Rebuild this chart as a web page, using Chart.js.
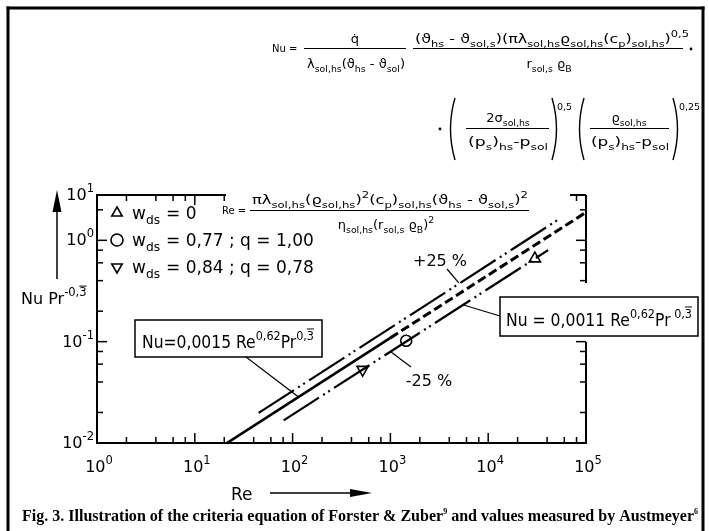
<!DOCTYPE html>
<html>
<head>
<meta charset="utf-8">
<script src="https://cdn.jsdelivr.net/npm/chart.js@4.4.0/dist/chart.umd.min.js"></script>
<style>
  html, body { margin: 0; padding: 0; background: #fff; }
</style>
</head>
<body>
<canvas id="nuChart" width="709" height="531"></canvas>
<script>
// values: x = Re, y = Nu Pr^-1/3 (log-log)
const lineSolid = [{ x: 20, y: 0.0096 }, { x: 1000, y: 0.109 }];
const lineDashed = [{ x: 1000, y: 0.109 }, { x: 100000, y: 1.89 }];
const linePlus25 = [{ x: 45, y: 0.0198 }, { x: 52000, y: 1.6 }];
const lineMinus25 = [{ x: 81, y: 0.0167 }, { x: 41000, y: 0.8 }];

const ptsWds0 = [{ x: 30000, y: 0.66 }];
const ptsWds077 = [{ x: 1450, y: 0.102 }];
const ptsWds084 = [{ x: 520, y: 0.053 }];

// axis range and ticks
const reMin = 1, reMax = 100000;
const nuMin = 0.01, nuMax = 2.8;
const reTicks = [1, 2, 4, 6, 8, 10, 20, 40, 60, 80, 100, 200, 400, 600, 800, 1000, 2000, 4000, 6000, 8000, 10000, 20000, 40000, 60000, 80000, 100000];
const nuTicks = [0.01, 0.02, 0.04, 0.06, 0.08, 0.1, 0.2, 0.4, 0.6, 0.8, 1, 2];
const reMajor = [1, 10, 100, 1000, 10000, 100000];
const reLabels = ["0", "1", "2", "3", "4", "5"];
const nuMajor = [0.01, 0.1, 1, nuMax];
const nuLabels = ["-2", "-1", "0", "1"];

// where the leader lines touch the curves (Re, Nu Pr^-1/3)
const anchorBox1 = { x: 115, y: 0.0285 };
const anchorBox2 = { x: 5600, y: 0.23 };
const anchorPlus = { x: 5000, y: 0.38 };
const anchorMinus = { x: 1000, y: 0.08 };

const FONT = '"DejaVu Sans", sans-serif';

function setFont(ctx, size) {
  ctx.font = size + "px " + FONT;
}

// parts: [text, kind]  kind: "" normal, "b" subscript, "p" superscript, "o" superscript with bar over last char
function richWidth(ctx, parts, size) {
  let w = 0;
  for (const [t, k] of parts) {
    setFont(ctx, k ? size * 0.72 : size);
    w += ctx.measureText(t).width;
  }
  return w;
}

function drawRich(ctx, x, y, parts, size, align, fitW) {
  const w = richWidth(ctx, parts, size);
  const sx = fitW ? fitW / w : 1;
  let x0 = x;
  if (align === "center") x0 = x - (w * sx) / 2;
  if (align === "right") x0 = x - w * sx;
  ctx.save();
  ctx.translate(x0, y);
  ctx.scale(sx, 1);
  ctx.fillStyle = "#000";
  ctx.textBaseline = "alphabetic";
  ctx.textAlign = "left";
  let cx = 0;
  for (const [t, k] of parts) {
    let dy = 0;
    if (k) {
      setFont(ctx, size * 0.72);
      dy = k === "b" ? size * 0.3 : -size * 0.5;
    } else {
      setFont(ctx, size);
    }
    ctx.fillText(t, cx, dy);
    const tw = ctx.measureText(t).width;
    if (k === "o") {
      const lw = ctx.measureText(t.slice(-1)).width;
      ctx.lineWidth = 1;
      ctx.beginPath();
      ctx.moveTo(cx + tw - lw, dy - size * 0.62);
      ctx.lineTo(cx + tw, dy - size * 0.62);
      ctx.stroke();
    }
    cx += tw;
  }
  ctx.restore();
  return w * sx;
}

function line(ctx, x1, y1, x2, y2, w) {
  ctx.lineWidth = w || 1;
  ctx.beginPath();
  ctx.moveTo(x1, y1);
  ctx.lineTo(x2, y2);
  ctx.stroke();
}

function paren(ctx, x, y1, y2, dir) {
  ctx.lineWidth = 1.4;
  ctx.beginPath();
  ctx.moveTo(x, y1);
  ctx.quadraticCurveTo(x - dir * 9, (y1 + y2) / 2, x, y2);
  ctx.stroke();
}

function inSeg(v, segs) {
  return segs.some(([a, b]) => v >= a - 0.5 && v <= b + 0.5);
}

const figurePlugin = {
  id: "figure",
  afterDraw(chart) {
    const ctx = chart.ctx;
    const xs = chart.scales.x, ys = chart.scales.y;
    const a = chart.chartArea;
    ctx.save();
    ctx.strokeStyle = "#000";
    ctx.fillStyle = "#000";
    ctx.lineCap = "butt";

    // frame, with the gaps the figure leaves for the formula and the label box
    const topSegs = [[a.left, a.left + 129], [a.right - 16, a.right]];
    const rightSegs = [[a.top, 283], [342, a.bottom]];
    line(ctx, a.left, a.top - 1, a.left, a.bottom + 1, 2);
    line(ctx, a.left - 1, a.bottom, a.right + 1, a.bottom, 2);
    topSegs.forEach(([p, q]) => line(ctx, p, a.top, q, a.top, 2));
    rightSegs.forEach(([p, q]) => line(ctx, a.right, p, a.right, q, 2));

    // ticks pointing inward
    reTicks.forEach(v => {
      const px = xs.getPixelForValue(v);
      const len = reMajor.includes(v) ? 10 : 6;
      line(ctx, px, a.bottom, px, a.bottom - len, 1.5);
      if (inSeg(px, topSegs)) line(ctx, px, a.top, px, a.top + len, 1.5);
    });
    nuTicks.forEach(v => {
      const py = ys.getPixelForValue(v);
      const len = nuMajor.includes(v) ? 10 : 6;
      line(ctx, a.left, py, a.left + len, py, 1.5);
      if (inSeg(py, rightSegs)) line(ctx, a.right, py, a.right - len, py, 1.5);
    });

    // tick labels
    reMajor.forEach((v, i) => {
      const px = xs.getPixelForValue(v);
      drawRich(ctx, px + 2, a.bottom + 29, [["10", ""], [reLabels[i], "p"]], 16, "center");
    });
    nuMajor.forEach((v, i) => {
      const py = ys.getPixelForValue(v);
      drawRich(ctx, a.left - 3, py + 5, [["10", ""], [nuLabels[i], "p"]], 16, "right");
    });

    // axis titles with arrows
    drawRich(ctx, 21, 304, [["Nu Pr", ""], ["-0,3", "o"]], 16, "left");
    line(ctx, 57, 279, 57, 208, 1.5);
    ctx.beginPath();
    ctx.moveTo(57, 190); ctx.lineTo(52.5, 212); ctx.lineTo(61.5, 212); ctx.closePath(); ctx.fill();
    drawRich(ctx, 231, 500, [["Re", ""]], 17, "left");
    line(ctx, 270, 493, 352, 493, 1.5);
    ctx.beginPath();
    ctx.moveTo(372, 493); ctx.lineTo(350, 489); ctx.lineTo(350, 497); ctx.closePath(); ctx.fill();

    // legend
    const leg = [
      { ds: 4, parts: [["w", ""], ["ds", "b"], [" = 0", ""]] },
      { ds: 5, parts: [["w", ""], ["ds", "b"], [" = 0,77 ; q = 1,00", ""]] },
      { ds: 6, parts: [["w", ""], ["ds", "b"], [" = 0,84 ; q = 0,78", ""]] }
    ];
    leg.forEach((it, i) => {
      const y = 214 + i * 27;
      const d = chart.data.datasets[it.ds];
      ctx.save();
      ctx.lineWidth = 1.6;
      ctx.strokeStyle = "#000";
      ctx.fillStyle = "#fff";
      Chart.helpers.drawPoint(ctx, {
        pointStyle: d.pointStyle, rotation: d.pointRotation || 0,
        radius: 6, borderWidth: 1.6
      }, 117, y - 1);
      ctx.restore();
      const parts = it.parts;
      const w = drawRich(ctx, 132, y + 5, parts.slice(0, 2), 17, "left");
      drawRich(ctx, 132 + w + 6, y + 5, [["=" + parts[2][0].slice(2), ""]], 17, "left");
    });

    // label boxes and leaders
    ctx.lineWidth = 1.5;
    const b1 = { x: 135, y: 320, w: 187, h: 37 };
    ctx.fillStyle = "#fff";
    ctx.fillRect(b1.x, b1.y, b1.w, b1.h);
    ctx.strokeRect(b1.x, b1.y, b1.w, b1.h);
    drawRich(ctx, b1.x + 7, b1.y + 28,
      [["Nu=0,0015 Re", ""], ["0,62", "p"], ["Pr", ""], ["0,3", "o"]], 17, "left", 172);
    line(ctx, 246, b1.y + b1.h, xs.getPixelForValue(anchorBox1.x), ys.getPixelForValue(anchorBox1.y), 1.2);

    const b2 = { x: 500, y: 297, w: 198, h: 39 };
    ctx.fillStyle = "#fff";
    ctx.fillRect(b2.x, b2.y, b2.w, b2.h);
    ctx.lineWidth = 1.5;
    ctx.strokeRect(b2.x, b2.y, b2.w, b2.h);
    drawRich(ctx, b2.x + 6, b2.y + 29,
      [["Nu = 0,0011 Re", ""], ["0,62", "p"], ["Pr", ""], [" 0,3", "o"]], 17, "left", 186);
    line(ctx, b2.x, b2.y + 19, xs.getPixelForValue(anchorBox2.x), ys.getPixelForValue(anchorBox2.y), 1.2);

    // +/-25 % labels
    drawRich(ctx, 440, 266, [["+25 %", ""]], 16, "center");
    line(ctx, 447, 269, xs.getPixelForValue(anchorPlus.x), ys.getPixelForValue(anchorPlus.y), 1.2);
    drawRich(ctx, 429, 386, [["-25 %", ""]], 16, "center");
    line(ctx, 411, 367, xs.getPixelForValue(anchorMinus.x), ys.getPixelForValue(anchorMinus.y), 1.2);

    // Nu definition (top)
    ctx.fillStyle = "#000";
    drawRich(ctx, 272, 52, [["Nu =", ""]], 10, "left");
    drawRich(ctx, 355, 43, [["q\u0307", ""]], 13, "center");
    line(ctx, 304, 48.5, 406, 48.5, 1);
    drawRich(ctx, 356, 68, [["\u03bb", ""], ["sol,hs", "b"], ["(\u03d1", ""], ["hs", "b"], [" - \u03d1", ""], ["sol", "b"], [")", ""]], 13, "center", 98);
    drawRich(ctx, 415, 43, [["(\u03d1", ""], ["hs", "b"], [" - \u03d1", ""], ["sol,s", "b"], [")(\u03c0\u03bb", ""], ["sol,hs", "b"], ["\u03f1", ""], ["sol,hs", "b"], ["(c", ""], ["p", "b"], [")", ""], ["sol,hs", "b"], [")", ""], ["0,5", "p"]], 13, "left", 274);
    line(ctx, 413, 48.5, 683, 48.5, 1);
    drawRich(ctx, 549, 68, [["r", ""], ["sol,s", "b"], [" \u03f1", ""], ["B", "b"]], 13, "center");
    ctx.beginPath(); ctx.arc(691, 49, 1.4, 0, Math.PI * 2); ctx.fill();

    // second line of the Nu definition
    ctx.beginPath(); ctx.arc(440, 129, 1.4, 0, Math.PI * 2); ctx.fill();
    paren(ctx, 455, 98, 160, 1);
    drawRich(ctx, 508, 122, [["2\u03c3", ""], ["sol,hs", "b"]], 13, "center");
    line(ctx, 466, 128.5, 549, 128.5, 1);
    drawRich(ctx, 508, 146, [["(p", ""], ["s", "b"], [")", ""], ["hs", "b"], ["-p", ""], ["sol", "b"]], 13, "center", 80);
    paren(ctx, 552, 98, 160, -1);
    drawRich(ctx, 557, 110, [["0,5", ""]], 9.5, "left");
    paren(ctx, 584, 98, 160, 1);
    drawRich(ctx, 629, 122, [["\u03f1", ""], ["sol,hs", "b"]], 13, "center");
    line(ctx, 590, 128.5, 669, 128.5, 1);
    drawRich(ctx, 630, 146, [["(p", ""], ["s", "b"], [")", ""], ["hs", "b"], ["-p", ""], ["sol", "b"]], 13, "center", 78);
    paren(ctx, 673, 98, 160, -1);
    drawRich(ctx, 679, 110, [["0,25", ""]], 9.5, "left");

    // Re definition
    drawRich(ctx, 222, 214, [["Re =", ""]], 10, "left");
    drawRich(ctx, 252, 204, [["\u03c0\u03bb", ""], ["sol,hs", "b"], ["(\u03f1", ""], ["sol,hs", "b"], [")", ""], ["2", "p"], ["(c", ""], ["p", "b"], [")", ""], ["sol,hs", "b"], ["(\u03d1", ""], ["hs", "b"], [" - \u03d1", ""], ["sol,s", "b"], [")", ""], ["2", "p"]], 13, "left", 276);
    line(ctx, 250, 210.5, 529, 210.5, 1);
    drawRich(ctx, 386, 229, [["\u03b7", ""], ["sol,hs", "b"], ["(r", ""], ["sol,s", "b"], [" \u03f1", ""], ["B", "b"], [")", ""], ["2", "p"]], 13, "center");

    // caption
    ctx.save();
    ctx.font = "bold 16px \"Liberation Serif\", serif";
    const capA = "Fig. 3. Illustration of the criteria equation of Forster & Zuber";
    const capB = " and values measured by Austmeyer";
    const wA = ctx.measureText(capA).width, wB = ctx.measureText(capB).width;
    ctx.font = "bold 8px \"Liberation Serif\", serif";
    const wS = ctx.measureText("9").width;
    const total = wA + wB + 2 * wS;
    const sx = 676 / total;
    ctx.translate(22, 521);
    ctx.scale(sx, 1);
    ctx.font = "bold 16px \"Liberation Serif\", serif";
    ctx.fillText(capA, 0, 0);
    ctx.fillText(capB, wA + wS, 0);
    ctx.font = "bold 8px \"Liberation Serif\", serif";
    ctx.fillText("9", wA, -7);
    ctx.fillText("6", wA + wS + wB, -7);
    ctx.restore();

    // outer border of the figure
    line(ctx, 8, 6.5, 8, 531, 3);
    line(ctx, 6.5, 8, 704.5, 8, 3);
    line(ctx, 703, 6.5, 703, 531, 3);
    ctx.restore();
  }
};

const dashDotDot = [42, 5, 2, 4, 2, 5];

const ctx = document.getElementById("nuChart").getContext("2d");
const nuChart = new Chart(ctx, {
  type: "scatter",
  data: {
    datasets: [
      { label: "Nu = 0,0015 Re^0,62", data: lineSolid, showLine: true, borderColor: "#000", borderWidth: 2.6, pointRadius: 0 },
      { label: "extrapolated", data: lineDashed, showLine: true, borderColor: "#000", borderWidth: 3, borderDash: [9, 4], pointRadius: 0 },
      { label: "+25 %", data: linePlus25, showLine: true, borderColor: "#000", borderWidth: 2.2, borderDash: dashDotDot, pointRadius: 0 },
      { label: "-25 %", data: lineMinus25, showLine: true, borderColor: "#000", borderWidth: 2.2, borderDash: dashDotDot, pointRadius: 0 },
      { label: "wds = 0", data: ptsWds0, pointStyle: "triangle", pointRadius: 6.5, pointBorderWidth: 1.6, borderColor: "#000", backgroundColor: "#fff" },
      { label: "wds = 0,77", data: ptsWds077, pointStyle: "circle", pointRadius: 5.5, pointBorderWidth: 1.6, borderColor: "#000", backgroundColor: "#fff" },
      { label: "wds = 0,84", data: ptsWds084, pointStyle: "triangle", pointRotation: 180, pointRadius: 6.5, pointBorderWidth: 1.6, borderColor: "#000", backgroundColor: "#fff" }
    ]
  },
  options: {
    responsive: false,
    animation: false,
    layout: { padding: { left: 97, right: 123, top: 195, bottom: 88 } },
    plugins: { legend: { display: false }, tooltip: { enabled: false } },
    scales: {
      x: { type: "logarithmic", min: reMin, max: reMax, display: false },
      y: { type: "logarithmic", min: nuMin, max: nuMax, display: false }
    }
  },
  plugins: [figurePlugin]
});
</script>
</body>
</html>
